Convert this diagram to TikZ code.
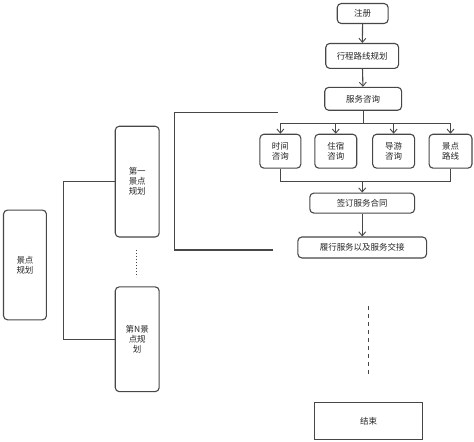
\documentclass[tikz,border=0pt]{standalone}
\usepackage{fontspec}
\setmainfont{Noto Sans CJK SC}
\usetikzlibrary{arrows.meta}
\begin{document}
\begin{tikzpicture}[x=1pt,y=-1pt,
  line width=1.1pt,
  every path/.style={draw=black!72},
  box/.style={draw=black!72,line width=1.1pt,rounded corners=4pt,inner sep=1pt,align=center,font=\fontsize{8.5pt}{10pt}\selectfont,text=black!85},
  sbox/.style={box,rounded corners=0pt},
  arr/.style={-{Straight Barb[length=4pt,width=7pt,line width=0.9pt]}}]
\useasboundingbox (0,0) rectangle (474,441);
\fill[white] (0,0) rectangle (474,441);
% right flow
\node[box,minimum width=51pt,minimum height=20pt] (zc) at (363,13) {注册};
\node[box,minimum width=73pt,minimum height=25pt] (xc) at (362.5,55.5) {行程路线规划};
\node[box,minimum width=77pt,minimum height=23pt] (fw) at (363.5,98.5) {服务咨询};
\node[box,minimum width=41pt,minimum height=34pt] (t1) at (280.5,151) {时间\\咨询};
\node[box,minimum width=42pt,minimum height=34pt] (t2) at (336,151) {住宿\\咨询};
\node[box,minimum width=42pt,minimum height=34pt] (t3) at (394,151) {导游\\咨询};
\node[box,minimum width=43pt,minimum height=34pt] (t4) at (451,151) {景点\\路线};
\node[box,minimum width=105pt,minimum height=20pt] (qd) at (362.5,203) {签订服务合同};
\node[box,minimum width=129pt,minimum height=21pt] (lx) at (362.5,247.5) {履行服务以及服务交接};
\node[sbox,minimum width=108pt,minimum height=37pt] (js) at (369,421.5) {结束};
\coordinate (topbar) at (0,123);
\coordinate (botbar) at (0,181);
\draw[arr] (zc) -- (xc);
\draw[arr] (xc) -- (fw);
\draw (fw.south) -- (fw.south |- topbar);
\draw (t1.north |- topbar) -- (t4.north |- topbar);
\foreach \t in {t1,t2,t3,t4} \draw[arr] (\t.north |- topbar) -- (\t.north);
\draw (t1.south) -- (t1.south |- botbar) -- (t4.south |- botbar) -- (t4.south);
\draw[arr] (qd.north |- botbar) -- (qd.north);
\draw[arr] (qd) -- (lx);
\coordinate (dsA) at (369,306);
\coordinate (dsB) at (369,374);
\draw[dash pattern=on 4pt off 4pt,line width=1pt] (dsA) -- (dsB);
% bracket
\coordinate (brA) at (278,112);
\coordinate (brB) at (273,250);
\draw (brA) -- (174,112) -- (174,250) -- (brB);
% left part
\node[box,minimum width=43pt,minimum height=110pt] (jd) at (24.5,265) {景点\\规划};
\node[box,minimum width=44pt,minimum height=111pt] (d1) at (137,181.5) {第一\\景点\\规划};
\node[box,minimum width=44pt,minimum height=105pt] (dn) at (137,339.5) {第N景\\点规\\划};
\coordinate (vx) at (63,0);
\draw (d1.west) -- (d1.west -| vx) -- (dn.west -| vx) -- (dn.west);
\coordinate (dtA) at (136,250);
\coordinate (dtB) at (136,277);
\draw[dotted,line width=1pt] (dtA) -- (dtB);
\end{tikzpicture}
\end{document}
